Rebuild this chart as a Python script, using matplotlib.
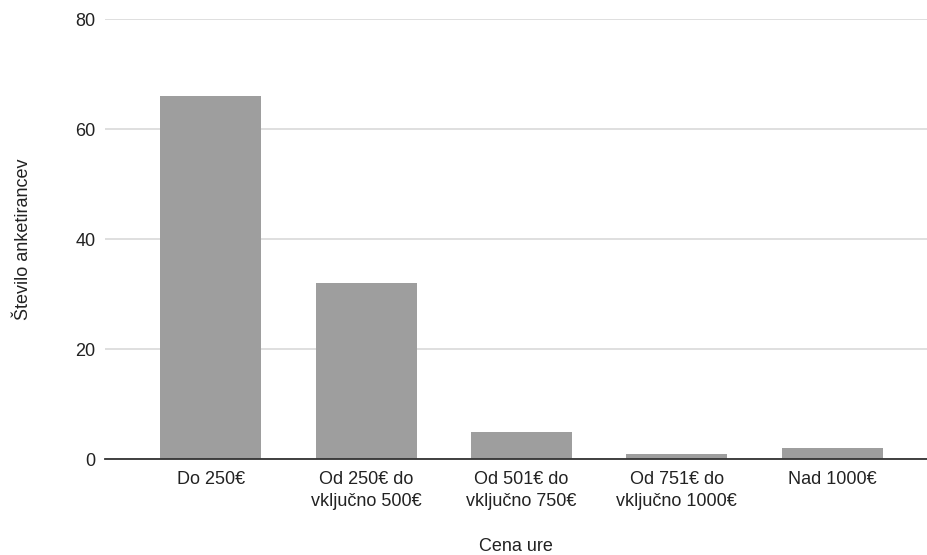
import matplotlib.pyplot as plt

categories = ["Do 250€", "Od 250€ do\nvključno 500€", "Od 501€ do\nvključno 750€",
              "Od 751€ do\nvključno 1000€", "Nad 1000€"]
counts = [66, 32, 5, 1, 2]
y_ticks = [0, 20, 40, 60, 80]

plt.rcParams["font.family"] = ["Liberation Sans", "DejaVu Sans"]

fig = plt.figure(figsize=(9.27, 5.55), dpi=100)
ax = fig.add_axes([105 / 927, 96 / 555, 822 / 927, 440 / 555])

x = range(len(categories))
ax.bar(x, counts, width=0.65, color="#9e9e9e", zorder=3)

ax.set_ylim(0, 80)
ax.set_xlim(-0.68, 4.61)
ax.set_yticks(y_ticks)
ax.set_xticks(list(x))
ax.set_xticklabels(categories, fontsize=13, color="#222222", linespacing=1.35)
ax.tick_params(axis="y", labelsize=13, labelcolor="#222222", length=0, pad=7)
ax.tick_params(axis="x", length=0, pad=9)

ax.grid(axis="y", color="#d9d9d9", linewidth=1.2, zorder=0)
for side in ["top", "right", "left"]:
    ax.spines[side].set_visible(False)
ax.spines["bottom"].set_color("#333333")
ax.spines["bottom"].set_linewidth(1.3)
ax.spines["bottom"].set_zorder(4)

ax.set_ylabel("Število anketirancev", fontsize=13, color="#222222", labelpad=31)
ax.set_xlabel("Cena ure", fontsize=13, color="#222222", labelpad=20)

fig.savefig("out.png", dpi=100)
